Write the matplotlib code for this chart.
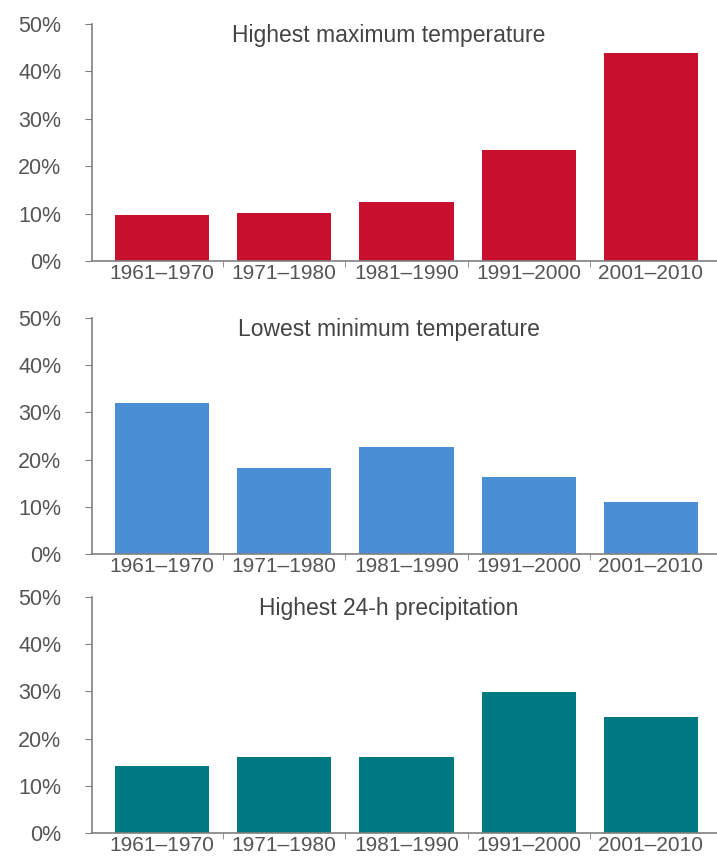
import matplotlib
matplotlib.use("Agg")
import matplotlib.pyplot as plt
from matplotlib.ticker import FuncFormatter

plt.rcParams['font.family'] = ['Liberation Sans', 'DejaVu Sans']

decades = ["1961–1970", "1971–1980", "1981–1990", "1991–2000", "2001–2010"]
titles = ["Highest maximum temperature", "Lowest minimum temperature", "Highest 24-h precipitation"]
max_temp = [9.7, 10.2, 12.4, 23.4, 43.9]
min_temp = [32.0, 18.2, 22.7, 16.3, 11.0]
precip = [14.2, 16.2, 16.2, 29.9, 24.6]
colors = ["#C8102E", "#4A8ED4", "#007A82"]
y_ticks = [0, 10, 20, 30, 40, 50]

fig = plt.figure(figsize=(7.17, 8.56), dpi=100)
boxes = [(0.695, 0.972), (0.3528, 0.6285), (0.0269, 0.3026)]
gray = "#555555"
axis_gray = "#808080"

for (bottom, top), vals, title, color in zip(boxes, [max_temp, min_temp, precip], titles, colors):
    ax = fig.add_axes([0.128, bottom, 1.0 - 0.128, top - bottom])
    ax.bar(range(len(decades)), vals, width=0.77, color=color)
    ax.set_xlim(-0.575, 4.54)
    ax.set_ylim(0, 50)
    ax.set_yticks(y_ticks)
    ax.yaxis.set_major_formatter(FuncFormatter(lambda v, p: f"{v:.0f}%"))
    ax.set_xticks(range(len(decades)))
    ax.set_xticklabels(decades)
    ax.set_xticks([0.5, 1.5, 2.5, 3.5], minor=True)
    ax.tick_params(axis='x', which='major', length=0, labelsize=15, labelcolor=gray, pad=2)
    ax.tick_params(axis='x', which='minor', length=4, color=axis_gray, direction='out')
    ax.tick_params(axis='y', length=5, color=axis_gray, labelsize=15.5, labelcolor=gray, pad=17)
    for s in ["top", "right"]:
        ax.spines[s].set_visible(False)
    for s in ["left", "bottom"]:
        ax.spines[s].set_color(axis_gray)
        ax.spines[s].set_linewidth(1.2)
    ax.text(0.475, 1.0, title, transform=ax.transAxes, ha='center', va='top',
            fontsize=16.5, color="#444444")

fig.savefig("out.png", dpi=100)
